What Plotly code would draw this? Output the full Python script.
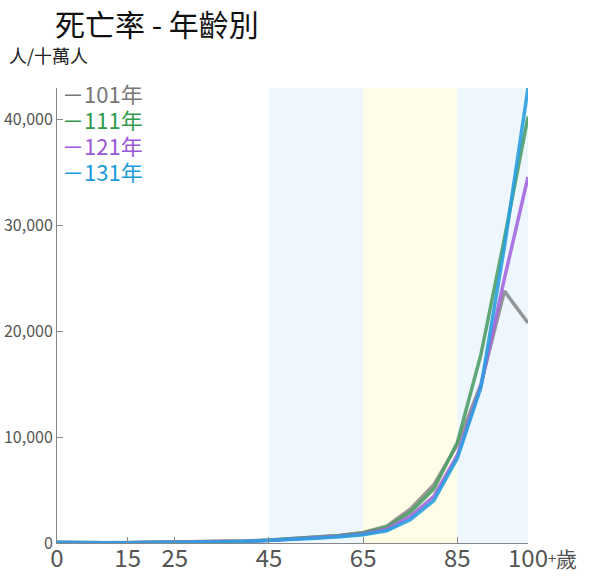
import plotly.graph_objects as go

# Age groups (5-year steps, last group is 100+)
ages = [0, 5, 10, 15, 20, 25, 30, 35, 40, 45, 50, 55, 60, 65, 70, 75, 80, 85, 90, 95, 100]

# Deaths per 100,000 population by age, per year
rate_101 = [60, 15, 15, 40, 60, 70, 90, 130, 190, 280, 400, 560, 720, 1000, 1600, 3200, 5500, 9300, 15000, 23800, 20800]
rate_111 = [50, 12, 12, 35, 50, 60, 80, 120, 180, 270, 390, 540, 700, 950, 1500, 2900, 5100, 9500, 17800, 28800, 40300]
rate_121 = [45, 10, 10, 30, 45, 55, 70, 110, 160, 240, 350, 490, 640, 850, 1300, 2500, 4400, 8300, 14800, 25000, 34600]
rate_131 = [40, 10, 10, 30, 45, 50, 70, 100, 150, 230, 330, 460, 600, 780, 1150, 2200, 4000, 8000, 14700, 28000, 43000]

series = [
    ("101年", rate_101, "#8c8c8c", "#777777"),
    ("111年", rate_111, "#4f9f68", "#2f9a4c"),
    ("121年", rate_121, "#a468e0", "#9b58d8"),
    ("131年", rate_131, "#2aa0e0", "#1a9ad8"),
]

x_ticks = [0, 15, 25, 45, 65, 85, 100]
x_ticktext = ["0", "15", "25", "45", "65", "85", "100"]
y_ticks = [0, 10000, 20000, 30000, 40000]
y_ticktext = ["0", "10,000", "20,000", "30,000", "40,000"]

# Shaded age bands: (start, end, colour)
bands = [(45, 65, "#eef7fe"), (65, 85, "#fefee8"), (85, 100, "#eef7fe")]

FONT = "Noto Sans CJK TC"
W, H = 590, 577
L, R, T, B = 57, 62, 88, 34
PW, PH = W - L - R, H - T - B


def px(xp):
    return (xp - L) / PW


def py(yp):
    return (H - B - yp) / PH


fig = go.Figure()
for name, vals, color, _ in series:
    fig.add_trace(go.Scatter(
        x=ages, y=vals, mode="lines", name=name,
        line=dict(color=color, width=3.5), opacity=0.9,
    ))

for x0, x1, col in bands:
    fig.add_shape(type="rect", xref="x", yref="paper", x0=x0, x1=x1, y0=0, y1=1,
                  fillcolor=col, line=dict(width=0), layer="below")

# Legend drawn as coloured text entries
for i, (name, _, _, tcol) in enumerate(series):
    fig.add_annotation(
        xref="paper", yref="paper", x=px(60), y=py(93 + i * 26),
        xanchor="left", yanchor="middle", showarrow=False, height=24, valign="middle",
        text="－" + name, font=dict(family=FONT, size=22, color=tcol),
    )

# "+歲" suffix after the last x tick label
fig.add_annotation(xref="paper", yref="paper", x=px(546), y=py(557), xanchor="left", yanchor="middle",
                   showarrow=False, text="+", font=dict(family=FONT, size=15, color="#555555"))
fig.add_annotation(xref="paper", yref="paper", x=px(554), y=py(558), xanchor="left", yanchor="middle",
                   showarrow=False, text="歲", font=dict(family=FONT, size=21, color="#555555"))

fig.add_annotation(xref="paper", yref="paper", x=px(7), y=py(55),
                   xanchor="left", yanchor="middle", showarrow=False,
                   text="人/十萬人", font=dict(family=FONT, size=18, color="#222222"))

fig.update_layout(
    width=W, height=H,
    margin=dict(l=L, r=R, t=T, b=B, autoexpand=False),
    paper_bgcolor="white", plot_bgcolor="white",
    showlegend=False,
    font=dict(family=FONT, color="#555555"),
    title=dict(text="死亡率 - 年齡別", x=55 / W, xanchor="left", y=1 - 25 / H, yanchor="middle",
               font=dict(family=FONT, size=30, color="#111111")),
    xaxis=dict(range=[0, 100], tickvals=x_ticks, ticktext=x_ticktext,
               ticks="inside", ticklen=6, tickcolor="#888888",
               showline=True, linecolor="#888888", linewidth=1,
               showgrid=False, zeroline=False, automargin=False,
               ticklabelstandoff=-6,
               tickfont=dict(family=FONT, size=24, color="#555555")),
    yaxis=dict(range=[0, 43000], tickvals=y_ticks, ticktext=y_ticktext,
               ticks="inside", ticklen=6, tickcolor="#888888",
               showline=True, linecolor="#888888", linewidth=1,
               showgrid=False, zeroline=False, automargin=False,
               tickfont=dict(family=FONT, size=16, color="#555555")),
)

fig.write_html("out.html")
